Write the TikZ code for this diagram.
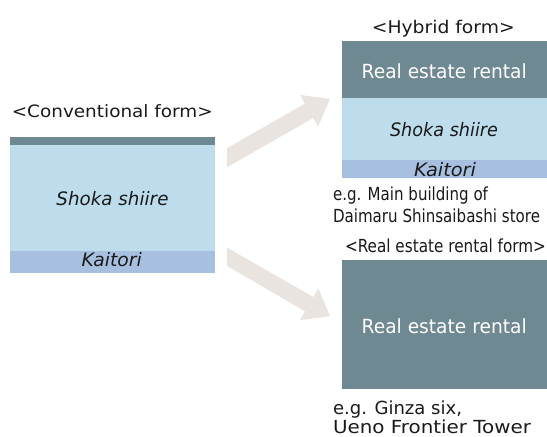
\documentclass[tikz,border=0pt]{standalone}
\usepackage{fontspec}
\setmainfont{DejaVu Sans}
\usepackage{graphicx}
\definecolor{slate}{HTML}{6E8991}
\definecolor{lblue}{HTML}{BDDDEC}
\definecolor{kblue}{HTML}{A8C0E0}
\definecolor{arrowc}{HTML}{EAE4E0}
\definecolor{ink}{HTML}{1A1A1A}
\newcommand{\fitw}[2]{\resizebox{#1pt}{\height}{#2}}
\tikzset{
  txt/.style={inner sep=0pt, outer sep=0pt, text=ink, font=\fontsize{18}{22}\selectfont},
  wtxt/.style={txt, text=white, font=\fontsize{19.5}{23}\selectfont},
  itxt/.style={txt, font=\fontsize{18.5}{22}\selectfont\itshape},
  bigarrow/.style={fill=arrowc, draw=none},
}
\begin{document}
\begin{tikzpicture}[x=1pt,y=-1pt]
\useasboundingbox (0,0) rectangle (547,437);
% conventional block
\fill[slate] (10,136.7) rectangle (215,145);
\fill[lblue] (10,145) rectangle (215,251);
\fill[kblue] (10,251) rectangle (215,273.3);
% hybrid block
\fill[slate] (341.7,41) rectangle (547,98.3);
\fill[lblue] (341.7,98.3) rectangle (547,160);
\fill[kblue] (341.7,160) rectangle (547,177.7);
% rental block
\fill[slate] (341.7,260) rectangle (547,389);
% arrows
\coordinate (u1) at (227,148.2);
\coordinate (u2) at (304.9,103.6);
\coordinate (u3) at (299.9,94.9);
\coordinate (u4) at (330,99);
\coordinate (u5) at (318.1,126.7);
\coordinate (u6) at (313.1,118);
\coordinate (u7) at (227,167.3);
\fill[bigarrow] (u1) -- (u2) -- (u3) -- (u4) -- (u5) -- (u6) -- (u7) -- cycle;
\coordinate (d1) at (227,247.6);
\coordinate (d2) at (313.35,297.0);
\coordinate (d3) at (318.4,288.3);
\coordinate (d4) at (330,316.2);
\coordinate (d5) at (300.0,320.1);
\coordinate (d6) at (305.05,311.4);
\coordinate (d7) at (227,265.8);
\fill[bigarrow] (d1) -- (d2) -- (d3) -- (d4) -- (d5) -- (d6) -- (d7) -- cycle;
% texts
\node[txt, anchor=base, font=\fontsize{17}{20}\selectfont] (convlbl) at (112.3,117) {\fitw{201}{<Conventional form>}};
\node[itxt, anchor=base] (convshoka) at (112.5,205.7) {\fitw{112}{Shoka shiire}};
\node[itxt, anchor=base] (convkai) at (111.7,266.7) {\fitw{60}{Kaitori}};
\node[txt, anchor=base, font=\fontsize{17.5}{20}\selectfont] (hyblbl) at (443.3,33.3) {\fitw{143}{<Hybrid form>}};
\node[wtxt, anchor=base] (hybrent) at (444.2,78.3) {\fitw{165}{Real estate rental}};
\node[itxt, anchor=base] (hybshoka) at (444,136.7) {\fitw{108}{Shoka shiire}};
\node[itxt, anchor=base] (hybkai) at (445,176.7) {\fitw{62}{Kaitori}};
\node[txt, anchor=base west] (hybeg1) at (333,200.3) {\fitw{155}{e.g. Main building of}};
\node[txt, anchor=base west] (hybeg2) at (333,222) {\fitw{207}{Daimaru Shinsaibashi store}};
\node[txt, anchor=base] (rentlbl) at (445.5,252.7) {\fitw{201}{<Real estate rental form>}};
\node[wtxt, anchor=base] (rentrent) at (444.2,333.3) {\fitw{165}{Real estate rental}};
\node[txt, anchor=base west] (renteg1) at (333,414.5) {\fitw{129}{e.g. Ginza six,}};
\node[txt, anchor=base west] (renteg2) at (333,433.5) {\fitw{198}{Ueno Frontier Tower}};
\end{tikzpicture}
\end{document}
